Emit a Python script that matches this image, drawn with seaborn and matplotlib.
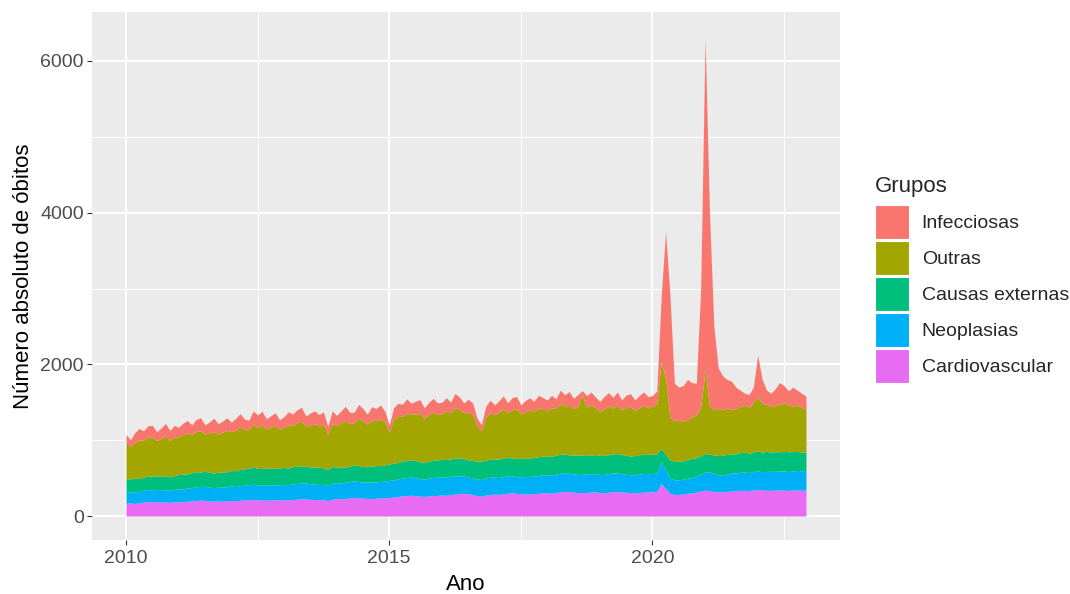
import numpy as np
import pandas as pd
import matplotlib
matplotlib.use("Agg")
import matplotlib.pyplot as plt
import seaborn as sns

# === Dados mensais (óbitos por grupo), jan/2010 a dez/2022 ===
anos = list(range(2010, 2023))
grupos = ["Infecciosas", "Outras", "Causas externas", "Neoplasias", "Cardiovascular"]
cores = ["#F8766D", "#A3A500", "#00BF7D", "#00B0F6", "#E76BF3"]

cardiovascular = [
    168, 172, 165, 178, 185, 190, 192, 188, 183, 186, 180, 188,
    190, 186, 195, 198, 205, 210, 206, 200, 196, 198, 195, 200,
    205, 200, 208, 212, 215, 220, 214, 210, 208, 212, 210, 215,
    215, 212, 218, 222, 228, 225, 220, 218, 215, 212, 205, 222,
    230, 225, 232, 238, 245, 240, 236, 232, 228, 235, 238, 240,
    245, 250, 258, 265, 270, 275, 268, 262, 258, 265, 270, 272,
    278, 272, 285, 290, 298, 300, 292, 285, 270, 262, 275, 285,
    288, 285, 292, 300, 305, 298, 295, 290, 292, 296, 300, 305,
    305, 300, 312, 318, 325, 320, 315, 310, 308, 312, 315, 318,
    310, 305, 315, 320, 322, 318, 312, 308, 305, 310, 315, 318,
    320, 325, 430, 360, 300, 285, 285, 290, 300, 305, 315, 330,
    342, 335, 325, 318, 320, 325, 330, 335, 338, 340, 335, 345,
    350, 345, 340, 338, 342, 345, 340, 338, 342, 345, 340, 342,
]
neoplasias = [
    150, 148, 155, 145, 160, 158, 155, 162, 165, 160, 158, 165,
    170, 172, 175, 178, 182, 180, 185, 180, 178, 182, 185, 188,
    190, 188, 192, 195, 198, 200, 196, 194, 198, 200, 202, 198,
    200, 202, 205, 208, 205, 210, 206, 204, 200, 205, 195, 210,
    212, 210, 215, 218, 220, 215, 212, 218, 220, 216, 218, 222,
    225, 228, 230, 235, 238, 240, 236, 232, 230, 235, 238, 240,
    242, 238, 240, 235, 232, 228, 222, 218, 215, 220, 225, 228,
    225, 222, 228, 232, 226, 220, 224, 230, 228, 232, 235, 238,
    240, 236, 242, 245, 248, 244, 240, 238, 242, 246, 244, 240,
    238, 242, 245, 248, 244, 240, 238, 236, 240, 244, 246, 242,
    240, 245, 286, 250, 200, 192, 192, 195, 198, 205, 210, 225,
    240, 250, 232, 225, 222, 228, 235, 232, 238, 240, 236, 242,
    245, 240, 248, 252, 246, 250, 255, 248, 252, 258, 255, 260,
]
causas_externas = [
    175, 170, 180, 172, 168, 178, 182, 176, 180, 185, 178, 182,
    188, 192, 185, 195, 198, 190, 200, 196, 192, 198, 202, 196,
    205, 210, 215, 212, 220, 225, 218, 222, 226, 220, 215, 222,
    225, 220, 228, 232, 226, 222, 218, 224, 228, 220, 210, 220,
    205, 210, 200, 198, 208, 212, 205, 200, 210, 215, 208, 212,
    215, 220, 218, 225, 222, 228, 225, 220, 218, 224, 228, 225,
    230, 235, 228, 240, 236, 232, 225, 230, 238, 242, 236, 240,
    238, 242, 245, 240, 235, 238, 242, 246, 240, 244, 248, 245,
    245, 250, 248, 252, 246, 242, 248, 252, 255, 250, 246, 252,
    250, 255, 248, 252, 258, 254, 250, 248, 252, 256, 250, 254,
    255, 250, 175, 200, 240, 245, 245, 242, 248, 250, 246, 240,
    245, 230, 248, 255, 258, 262, 256, 252, 260, 264, 258, 255,
    262, 258, 265, 255, 260, 252, 258, 262, 255, 250, 248, 245,
]
outras = [
    483, 420, 470, 510, 490, 520, 505, 470, 495, 525, 480, 510,
    495, 525, 540, 500, 530, 545, 490, 520, 550, 505, 520, 545,
    510, 535, 560, 520, 505, 570, 545, 575, 515, 540, 565, 510,
    530, 565, 545, 575, 590, 530, 555, 570, 545, 575, 460, 570,
    545, 580, 615, 565, 555, 625, 600, 560, 610, 590, 620, 570,
    420, 580, 605, 590, 630, 600, 615, 640, 580, 610, 635, 600,
    600, 640, 610, 665, 640, 600, 625, 610, 470, 400, 560, 610,
    585, 620, 650, 595, 635, 655, 585, 610, 640, 605, 645, 625,
    600, 640, 615, 670, 630, 665, 610, 640, 790, 625, 660, 620,
    580, 615, 645, 600, 640, 590, 630, 645, 595, 620, 650, 610,
    640, 660, 1142, 990, 560, 540, 540, 520, 530, 545, 560, 640,
    1100, 635, 595, 620, 600, 610, 580, 595, 610, 625, 600, 650,
    720, 640, 620, 600, 610, 625, 640, 615, 600, 610, 590, 560,
]
infecciosas = [
    100, 95, 130, 150, 120, 145, 160, 115, 140, 165, 130, 150,
    125, 150, 165, 130, 160, 170, 120, 145, 175, 135, 150, 165,
    130, 155, 175, 140, 125, 170, 160, 180, 135, 150, 170, 125,
    140, 175, 150, 165, 185, 130, 160, 170, 150, 160, 110, 165,
    135, 160, 185, 150, 140, 180, 165, 130, 175, 160, 180, 140,
    90, 150, 175, 160, 185, 145, 170, 180, 140, 165, 180, 155,
    150, 175, 140, 185, 165, 130, 175, 150, 100, 80, 150, 165,
    130, 150, 170, 125, 160, 165, 120, 145, 160, 135, 165, 150,
    140, 165, 130, 175, 150, 170, 140, 160, 60, 155, 170, 140,
    135, 160, 175, 145, 170, 130, 165, 175, 140, 160, 175, 150,
    135, 170, 867, 1950, 1600, 488, 438, 473, 524, 455, 419, 1565,
    4373, 2550, 1100, 532, 450, 375, 379, 286, 214, 151, 171, 208,
    543, 317, 187, 175, 222, 288, 227, 187, 251, 197, 187, 173,
]

series = {
    "Infecciosas": infecciosas,
    "Outras": outras,
    "Causas externas": causas_externas,
    "Neoplasias": neoplasias,
    "Cardiovascular": cardiovascular,
}

# data em ano decimal (inicio de cada mes)
meses = [a + m / 12 for a in anos for m in range(12)]

df = pd.DataFrame({
    "Ano": meses * len(grupos),
    "Grupos": [g for g in grupos for _ in meses],
    "obitos": [v for g in grupos for v in series[g]],
})

# === Tema parecido com ggplot2 ===
sns.set_theme(style="darkgrid", rc={
    "axes.facecolor": "#EBEBEB",
    "grid.color": "white",
    "figure.facecolor": "white",
})
plt.rcParams["font.family"] = ["Liberation Sans", "DejaVu Sans"]

fig, ax = plt.subplots(figsize=(10.7, 5.94), dpi=100)
fig.subplots_adjust(left=92 / 1070, right=840 / 1070, bottom=54 / 594, top=1 - 12 / 594)

# area empilhada: uma "barra" por mes, ligando os centros (element="poly")
edges = [2010 - 1 / 24 + i / 12 for i in range(len(meses) + 1)]
sns.histplot(data=df, x="Ano", weights="obitos", hue="Grupos", hue_order=grupos,
             palette=cores, multiple="stack", element="poly", bins=edges,
             alpha=1, linewidth=0, ax=ax)

# eixos
ax.set_xlim(2009.354, 2023.563)
ax.set_ylim(-316, 6646)
ax.set_xticks([2010, 2015, 2020])
ax.set_xticklabels(["2010", "2015", "2020"])
ax.set_xticks([2012.5, 2017.5, 2022.5], minor=True)
ax.set_yticks([0, 2000, 4000, 6000])
ax.set_yticklabels(["0", "2000", "4000", "6000"])
ax.set_yticks([1000, 3000, 5000], minor=True)
ax.grid(which="major", color="white", linewidth=1.4)
ax.grid(which="minor", color="white", linewidth=0.7)
ax.set_axisbelow(True)
sns.despine(ax=ax, left=True, bottom=True)
ax.tick_params(which="major", bottom=True, left=True, length=3.5, width=0.8,
               color="#333333", labelcolor="#4D4D4D", labelsize=14, pad=2.5)
ax.tick_params(axis="x", which="major", pad=4)
ax.tick_params(which="minor", bottom=False, left=False)

ax.set_xlabel("Ano", fontsize=16, color="black")
ax.set_ylabel("Número absoluto de óbitos", fontsize=16, color="black")
ax.xaxis.set_label_coords(0.5, -0.064)
ax.yaxis.set_label_coords(-0.078, 0.5)

# legenda a direita, estilo ggplot
sns.move_legend(ax, loc="upper left", bbox_to_anchor=(875 / 1070, 1 - 176 / 594),
                bbox_transform=fig.transFigure, frameon=False, title="Grupos",
                fontsize=14, title_fontsize=16, handlelength=1.75, handleheight=2.32,
                labelspacing=0.1, handletextpad=0.65, borderpad=0, borderaxespad=0,
                alignment="left")
leg = ax.get_legend()
leg._legend_box.sep = 5.5
for h in leg.legend_handles:
    h.set_edgecolor("white")
    h.set_linewidth(0.8)

plt.savefig("out.png", dpi=100)
